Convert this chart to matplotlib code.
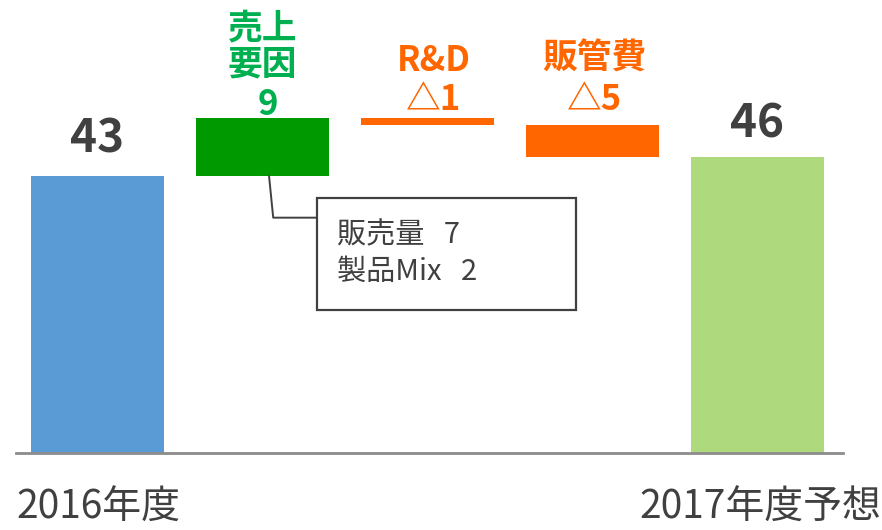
import matplotlib
matplotlib.use('Agg')
import matplotlib.pyplot as plt
from matplotlib.patches import Rectangle

#Fuentes (japones + respaldo):
plt.rcParams['font.family'] = ['Noto Sans CJK JP', 'DejaVu Sans']

############################DATOS##################################
pasos = ['2016年度', '売上要因', 'R&D', '販管費', '2017年度予想']
valores = [43, 9, -1, -5, 46]
tipos = ['total', 'delta', 'delta', 'delta', 'total']
desglose_nombres = ['販売量', '製品Mix']
desglose_valores = [7, 2]

#Colores:
col = ['#5B9BD5', '#009900', '#FF6600', '#FF6600', '#AED97C']
gris = '#404040'
verde_txt = '#00B050'
naranja = '#FF6600'

############################CALCULO CASCADA########################
bases = []
alturas = []
acum = 0
for v, t in zip(valores, tipos):
    if t == 'total':
        bases.append(0)
        alturas.append(v)
        acum = v
    else:
        if v >= 0:
            bases.append(acum)
            alturas.append(v)
        else:
            bases.append(acum + v)
            alturas.append(-v)
        acum += v

xs = list(range(len(pasos)))

############################GRAFICO################################
fig = plt.figure(figsize=(8.82, 5.30), dpi=100)
ax = fig.add_axes([0, 0, 1, 1])
ax.set_xlim(-0.591, 4.755)
ax.set_ylim(-11.9, 70.4)
ax.axis('off')

ax.bar(xs, alturas, bottom=bases, width=0.806, color=col, zorder=2)
#Linea del eje:
ax.plot([-0.494, 4.518], [0, 0], color='#8C8C8C', lw=2, zorder=3)

#Totales:
ax.text(xs[0], valores[0] + 5.8, str(valores[0]), ha='center', va='center',
        fontsize=33, fontweight='bold', color=gris)
ax.text(xs[4], valores[4] + 5.1, str(valores[4]), ha='center', va='center',
        fontsize=33, fontweight='bold', color=gris)

#Etiqueta ventas:
ax.text(xs[1], 66.1, '売上', ha='center', va='center', fontsize=25, fontweight='bold', color=verde_txt)
ax.text(xs[1], 60.5, '要因', ha='center', va='center', fontsize=25, fontweight='bold', color=verde_txt)
ax.text(xs[1] + 0.03, 54.2, str(valores[1]), ha='center', va='center', fontsize=25, fontweight='bold', color=verde_txt)

#Etiquetas de costes:
ax.text(xs[2] + 0.04, 61.0, pasos[2], ha='center', va='center', fontsize=25, fontweight='bold', color=naranja)
ax.text(xs[2] + 0.04, 54.9, '△' + str(-valores[2]), ha='center', va='center', fontsize=25, fontweight='bold', color=naranja)
ax.text(xs[3] + 0.01, 61.4, pasos[3], ha='center', va='center', fontsize=25, fontweight='bold', color=naranja)
ax.text(xs[3] + 0.01, 54.9, '△' + str(-valores[3]), ha='center', va='center', fontsize=25, fontweight='bold', color=naranja)

#Cuadro de desglose:
ax.add_patch(Rectangle((1.33, 22.3), 1.57, 17.4, fill=False, edgecolor=gris, lw=1.6, zorder=4))
ax.plot([1.04, 1.065, 1.33], [bases[1], 36.6, 36.6], color=gris, lw=1.4, zorder=4)
lineas = [n + '   ' + str(v) for n, v in zip(desglose_nombres, desglose_valores)]
ax.text(1.452, 33.9, lineas[0], ha='left', va='center', fontsize=21, color=gris)
ax.text(1.452, 28.2, lineas[1], ha='left', va='center', fontsize=21, color=gris)

#Etiquetas inferiores (dentro de la figura):
ax.text(-0.494, -11.6, pasos[0], ha='left', va='bottom', fontsize=28, color=gris)
ax.text(4.748, -11.6, pasos[4], ha='right', va='bottom', fontsize=28, color=gris)

plt.savefig('out.png', dpi=100)
plt.close(fig)
